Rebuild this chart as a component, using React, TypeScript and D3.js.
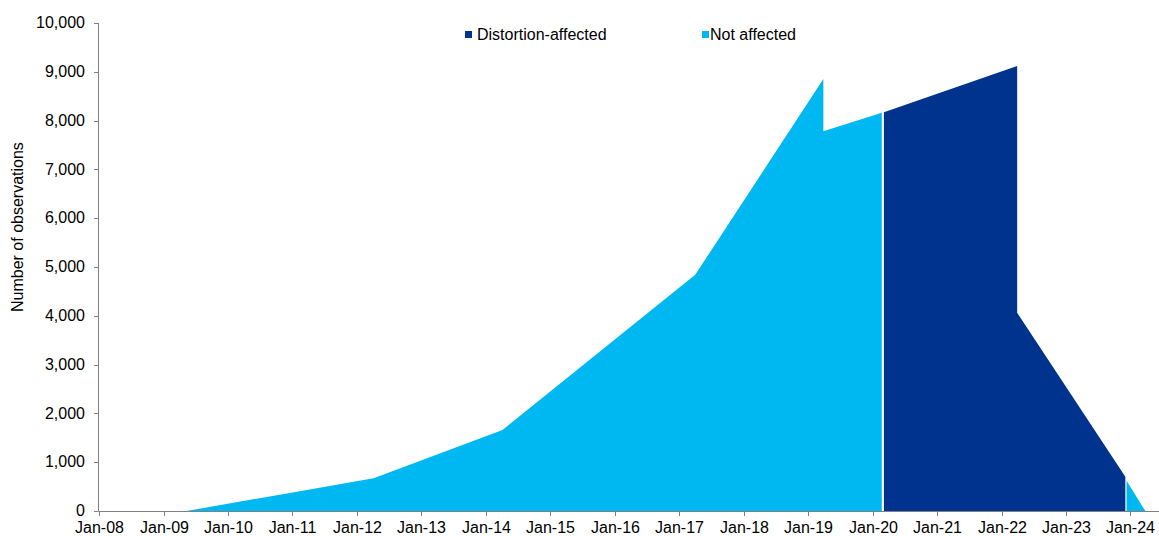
import React from "react";
import * as d3 from "d3";

const notAffectedDates = ["2009-05-10", "2012-04-05", "2014-04-05", "2017-04-01", "2019-03-28", "2019-03-28", "2020-02-22", "2020-02-22"];
const notAffectedValues = [0, 670, 1660, 4840, 8850, 7780, 8160, 0];
const notAffectedTailDates = ["2023-12-10", "2023-12-10", "2024-03-25"];
const notAffectedTailValues = [0, 620, 0];

const distortionDates = ["2020-03-05", "2020-03-05", "2022-03-30", "2022-03-30", "2023-12-03", "2023-12-03"];
const distortionValues = [0, 8170, 9120, 4060, 700, 0];

const yTicks = [0, 1000, 2000, 3000, 4000, 5000, 6000, 7000, 8000, 9000, 10000];
const xTickYears = d3.range(2008, 2025);

const LIGHT = "#00B8F1";
const DARK = "#00338D";
const AXIS = "#808080";
const FONT = "Liberation Sans, Arial, sans-serif";

type Pt = { d: Date; v: number };
const mk = (ds: string[], vs: number[]): Pt[] => ds.map((s, i) => ({ d: new Date(s + "T00:00:00"), v: vs[i] }));

export default function App() {
  const W = 1159, H = 536;
  const x = d3.scaleTime().domain([new Date("2008-01-01T00:00:00"), new Date("2024-06-05T00:00:00")]).range([99, 1158]);
  const y = d3.scaleLinear().domain([0, 10000]).range([511, 23]);
  const area = d3.area<Pt>().x(p => x(p.d)).y0(y(0)).y1(p => y(p.v)).curve(d3.curveLinear);

  const light1 = mk(notAffectedDates, notAffectedValues);
  const light2 = mk(notAffectedTailDates, notAffectedTailValues);
  const dark = mk(distortionDates, distortionValues);
  const fmt = d3.format(",");
  const tf = d3.timeFormat("%b-%y");

  return (
    <svg width={W} height={H} style={{ position: "absolute", left: 0, top: 0 }} fontFamily={FONT}>
      <path d={area(light1) || ""} fill={LIGHT} />
      <path d={area(light2) || ""} fill={LIGHT} />
      <path d={area(dark) || ""} fill={DARK} />
      {/* y axis */}
      <line x1={98.5} x2={98.5} y1={y(10000)} y2={y(0)} stroke={AXIS} strokeWidth={1} />
      {yTicks.map(t => (
        <g key={t}>
          <line x1={94} x2={98.5} y1={Math.round(y(t)) + 0.5} y2={Math.round(y(t)) + 0.5} stroke={AXIS} />
          <text x={85} y={y(t)} dy="0.33em" textAnchor="end" fontSize={16} fill="#000">{fmt(t)}</text>
        </g>
      ))}
      <text transform={`translate(23,${312}) rotate(-90)`} textAnchor="start" fontSize={16} fill="#000">Number of observations</text>
      {/* x axis */}
      <line x1={98.5} x2={1159} y1={511.5} y2={511.5} stroke={AXIS} strokeWidth={1} />
      {xTickYears.map(yr => {
        const d = new Date(yr, 0, 1);
        const px = Math.round(x(d)) + 0.5;
        return (
          <g key={yr}>
            <line x1={px} x2={px} y1={511.5} y2={516} stroke={AXIS} />
            <text x={px} y={533} textAnchor="middle" fontSize={16} fill="#000">{tf(d)}</text>
          </g>
        );
      })}
      {/* legend */}
      <rect x={465} y={31} width={7} height={7} fill={DARK} />
      <text x={477} y={40} fontSize={16} fill="#000">Distortion-affected</text>
      <rect x={702} y={31} width={7} height={7} fill={LIGHT} />
      <text x={710} y={40} fontSize={16} fill="#000">Not affected</text>
    </svg>
  );
}
